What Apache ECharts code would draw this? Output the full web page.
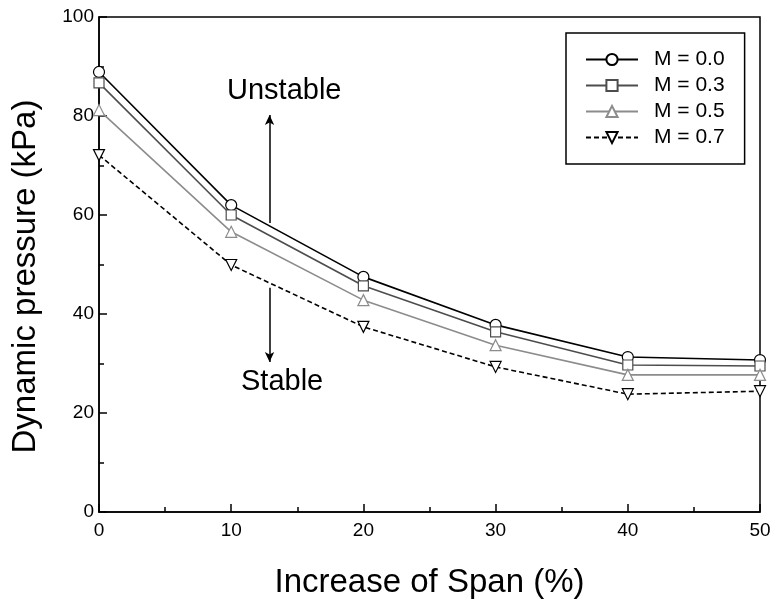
<!DOCTYPE html>
<html>
<head>
<meta charset="utf-8">
<script src="https://cdn.jsdelivr.net/npm/echarts@6/dist/echarts.min.js"></script>
<style>
  html, body { margin: 0; padding: 0; background: #fff; }
  #chart { width: 778px; height: 610px; }
</style>
</head>
<body>
<div id="chart"></div>
<script>
// Increase of span (%)
const spans = [0, 10, 20, 30, 40, 50];
const seriesNames = ['M = 0.0', 'M = 0.3', 'M = 0.5', 'M = 0.7'];
const m00 = [88.9, 62.0, 47.5, 37.8, 31.3, 30.7];
const m03 = [86.7, 60.0, 45.7, 36.4, 29.7, 29.5];
const m05 = [81.2, 56.6, 42.8, 33.7, 27.7, 27.7];
const m07 = [72.1, 49.9, 37.4, 29.3, 23.8, 24.4];
const xTicks = [0, 10, 20, 30, 40, 50];
const yTicks = [0, 20, 40, 60, 80, 100];
// arrows: [x, yFrom, yTo]
const arrowUp = [12.9, 58.4, 80.2];
const arrowDown = [12.9, 45.3, 30.3];

const FONT = 'Liberation Sans, Arial, sans-serif';
const INV_TRIANGLE = 'path://M0,0 L10,0 L5,9 Z';

function pairs(ys) {
    return spans.map(function (x, i) { return [x, ys[i]]; });
}

function lineSeries(name, data, color, symbol, dashed) {
    return {
        name: name,
        type: 'line',
        data: pairs(data),
        symbol: symbol,
        symbolSize: symbol === 'rect' ? 10 : 11,
        showAllSymbol: true,
        lineStyle: { color: color, width: 1.6, type: dashed ? [5, 3] : 'solid' },
        itemStyle: { color: '#fff', borderColor: color, borderWidth: 1.2 },
        emphasis: { disabled: true },
        z: 3
    };
}

let chart = echarts.init(document.getElementById('chart'));

let series = [
    lineSeries(seriesNames[0], m00, '#000', 'circle', false),
    lineSeries(seriesNames[1], m03, '#4d4d4d', 'rect', false),
    lineSeries(seriesNames[2], m05, '#8c8c8c', 'triangle', false),
    lineSeries(seriesNames[3], m07, '#000', INV_TRIANGLE, true),
    {
        /* Stability arrows. */
        type: 'line',
        data: [],
        silent: true,
        markLine: {
            silent: true,
            symbol: ['none', 'arrow'],
            symbolSize: [7, 10],
            label: { show: false },
            lineStyle: { color: '#000', width: 1.5, type: 'solid' },
            data: [
                [{ coord: [arrowUp[0], arrowUp[1]] }, { coord: [arrowUp[0], arrowUp[2]] }],
                [{ coord: [arrowDown[0], arrowDown[1]] }, { coord: [arrowDown[0], arrowDown[2]] }]
            ]
        }
    }
];

let options = {
    backgroundColor: '#fff',
    animation: false,
    grid: {
        left: 99,
        right: 18,
        top: 17,
        bottom: 98,
        show: true,
        borderColor: '#000',
        borderWidth: 1.5
    },
    legend: {
        data: seriesNames,
        orient: 'vertical',
        left: 566,
        top: 33,
        padding: [16, 20, 16, 19],
        itemWidth: 52,
        itemHeight: 14,
        itemGap: 5,
        borderColor: '#000',
        borderWidth: 1.5,
        backgroundColor: '#fff',
        textStyle: { fontFamily: FONT, fontSize: 21, lineHeight: 21, color: '#000', padding: [0, 0, 0, 11] }
    },
    xAxis: {
        type: 'value',
        min: xTicks[0],
        max: xTicks[xTicks.length - 1],
        interval: 10,
        name: 'Increase of Span (%)',
        nameLocation: 'middle',
        nameGap: 54,
        nameTextStyle: { fontFamily: FONT, fontSize: 33, color: '#000' },
        axisLine: { lineStyle: { color: '#000', width: 1.5 } },
        axisTick: { inside: true, length: 8, lineStyle: { color: '#000', width: 1.5 } },
        minorTick: { show: true, splitNumber: 2, length: 5, lineStyle: { color: '#000', width: 1.5 } },
        splitLine: { show: false },
        axisLabel: {
            margin: 9,
            fontFamily: FONT,
            fontSize: 19,
            color: '#000',
            formatter: function (v) { return xTicks.indexOf(v) >= 0 ? String(v) : ''; }
        }
    },
    yAxis: {
        type: 'value',
        min: yTicks[0],
        max: yTicks[yTicks.length - 1],
        interval: 20,
        name: 'Dynamic pressure (kPa)',
        nameLocation: 'middle',
        nameGap: 57,
        nameTextStyle: { fontFamily: FONT, fontSize: 33, color: '#000', padding: [0, 24, 0, 0] },
        axisLine: { show: true, lineStyle: { color: '#000', width: 1.5 } },
        axisTick: { show: true, inside: true, length: 8, lineStyle: { color: '#000', width: 1.5 } },
        minorTick: { show: true, splitNumber: 2, length: 5, lineStyle: { color: '#000', width: 1.5 } },
        splitLine: { show: false },
        axisLabel: {
            margin: 5,
            fontFamily: FONT,
            fontSize: 19,
            color: '#000',
            formatter: function (v) { return yTicks.indexOf(v) >= 0 ? String(v) : ''; }
        }
    },
    graphic: [
        {
            type: 'text',
            left: 227,
            top: 76,
            style: { text: 'Unstable', fontFamily: FONT, fontSize: 29, fill: '#000' }
        },
        {
            type: 'text',
            left: 241,
            top: 367,
            style: { text: 'Stable', fontFamily: FONT, fontSize: 29, fill: '#000' }
        }
    ],
    series: series
};

chart.setOption(options);

window.addEventListener('resize', function () {
    chart.resize();
});
</script>
</body>
</html>
